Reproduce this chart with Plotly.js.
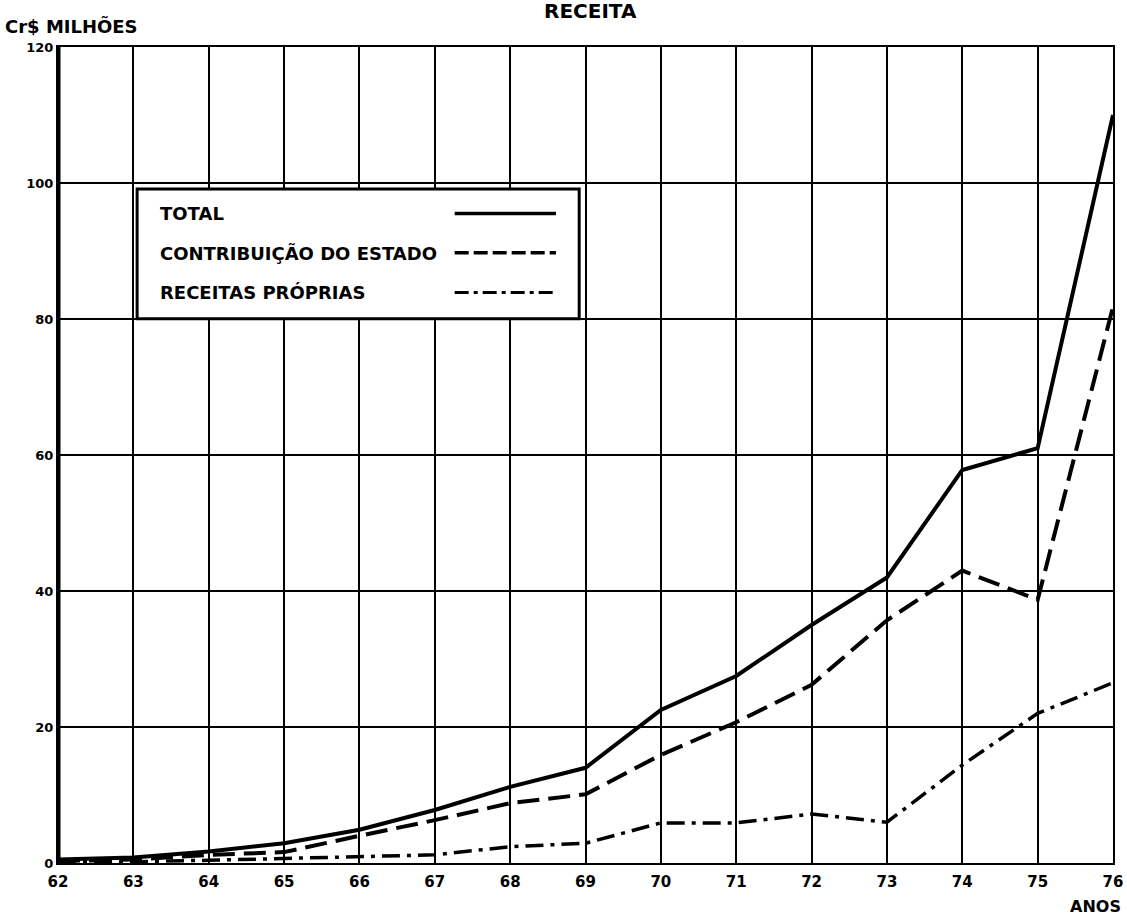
<!DOCTYPE html>
<html>
<head>
<meta charset="utf-8">
<script src="https://cdn.plot.ly/plotly-3.0.1.min.js"></script>
<style>html,body{margin:0;padding:0;background:#fff;}#chart{width:1127px;height:915px;}</style>
</head>
<body>
<div id="chart"></div>
<script>
const years = [62,63,64,65,66,67,68,69,70,71,72,73,74,75,76];
const total = [0.5,0.8,1.7,2.9,4.9,7.8,11.2,14.0,22.5,27.5,35.0,42.0,57.8,61.0,110.0];
const contribuicao = [0.3,0.5,1.2,1.6,4.0,6.3,8.8,10.1,15.9,20.7,26.2,35.7,43.0,38.7,81.8];
const proprias = [0.2,0.2,0.4,0.7,0.9,1.2,2.4,2.9,5.9,5.9,7.2,6.0,14.4,22.0,26.5];
const seriesNames = ["TOTAL","CONTRIBUIÇÃO DO ESTADO","RECEITAS PRÓPRIAS"];
const yTicks = [0,20,40,60,80,100,120];

const FONT = "DejaVu Sans, Liberation Sans, sans-serif";
const dashes = ["solid","22px,9px","18px,7px,4px,7px"];
const widths = [4,4,3.5];
const data = [total, contribuicao, proprias].map((ys,i)=>({
  x: years, y: ys, type: "scatter", mode: "lines", name: seriesNames[i],
  line: {color: "#000", width: widths[i], dash: dashes[i]}, showlegend: false
}));

// legend box (drawn manually: text on left, line sample on right)
const shapes = [
  {type:"rect", xref:"paper", yref:"paper", x0:0.075, x1:0.494, y0:0.667, y1:0.826,
   line:{color:"#000", width:3}, fillcolor:"#fff", layer:"above"}
];
const annotations = [];
const legY = [0.796, 0.748, 0.699];
seriesNames.forEach((n,i)=>{
  annotations.push({xref:"paper", yref:"paper", x:0.095, y:legY[i], xanchor:"left", yanchor:"middle",
    text:"<b>"+n+"</b>", showarrow:false, font:{family:FONT, size:18, color:"#000"}});
  shapes.push({type:"line", xref:"paper", yref:"paper", x0:0.376, x1:0.472, y0:legY[i], y1:legY[i],
    line:{color:"#000", width:widths[i]-0.5, dash: i===0?"solid":(i===1?"14px,5px":"14px,5px,4px,5px")}, layer:"above"});
});
// left double axis line
shapes.push({type:"line", xref:"x", yref:"paper", x0:62, x1:62, y0:0, y1:1, line:{color:"#000", width:5}, layer:"below"});

annotations.push({xref:"paper", yref:"paper", x:0.505, y:1, yshift:22, xanchor:"center", yanchor:"bottom",
  text:"<b>RECEITA</b>", showarrow:false, font:{family:FONT, size:20, color:"#000"}});
annotations.push({xref:"paper", yref:"paper", x:0, xshift:-55, y:1, yshift:8, xanchor:"left", yanchor:"bottom",
  text:"<b>Cr$ MILHÕES</b>", showarrow:false, font:{family:FONT, size:18, color:"#000"}});
annotations.push({xref:"paper", yref:"paper", x:1, xshift:10, y:0, yshift:-32, xanchor:"right", yanchor:"top",
  text:"<b>ANOS</b>", showarrow:false, font:{family:FONT, size:16, color:"#000"}});

const layout = {
  width:1127, height:915,
  margin:{l:58, r:14, t:47, b:52},
  paper_bgcolor:"#fff", plot_bgcolor:"#fff",
  showlegend:false,
  xaxis:{range:[62,76], tickvals:years, ticktext:years.map(String), showgrid:true, gridcolor:"#000", gridwidth:2,
    zeroline:false, showline:true, linecolor:"#000", linewidth:2, mirror:true, ticks:"", ticklabelstandoff:4,
    tickfont:{family:FONT, size:15, color:"#000", weight:"bold"}},
  yaxis:{range:[0,120], tickvals:yTicks, showgrid:true, gridcolor:"#000", gridwidth:2,
    zeroline:false, showline:true, linecolor:"#000", linewidth:2, mirror:true, ticks:"",
    tickfont:{family:FONT, size:13, color:"#000", weight:"bold"}},
  shapes: shapes, annotations: annotations
};
Plotly.newPlot("chart", data, layout, {displayModeBar:false, staticPlot:true});
</script>
</body>
</html>
